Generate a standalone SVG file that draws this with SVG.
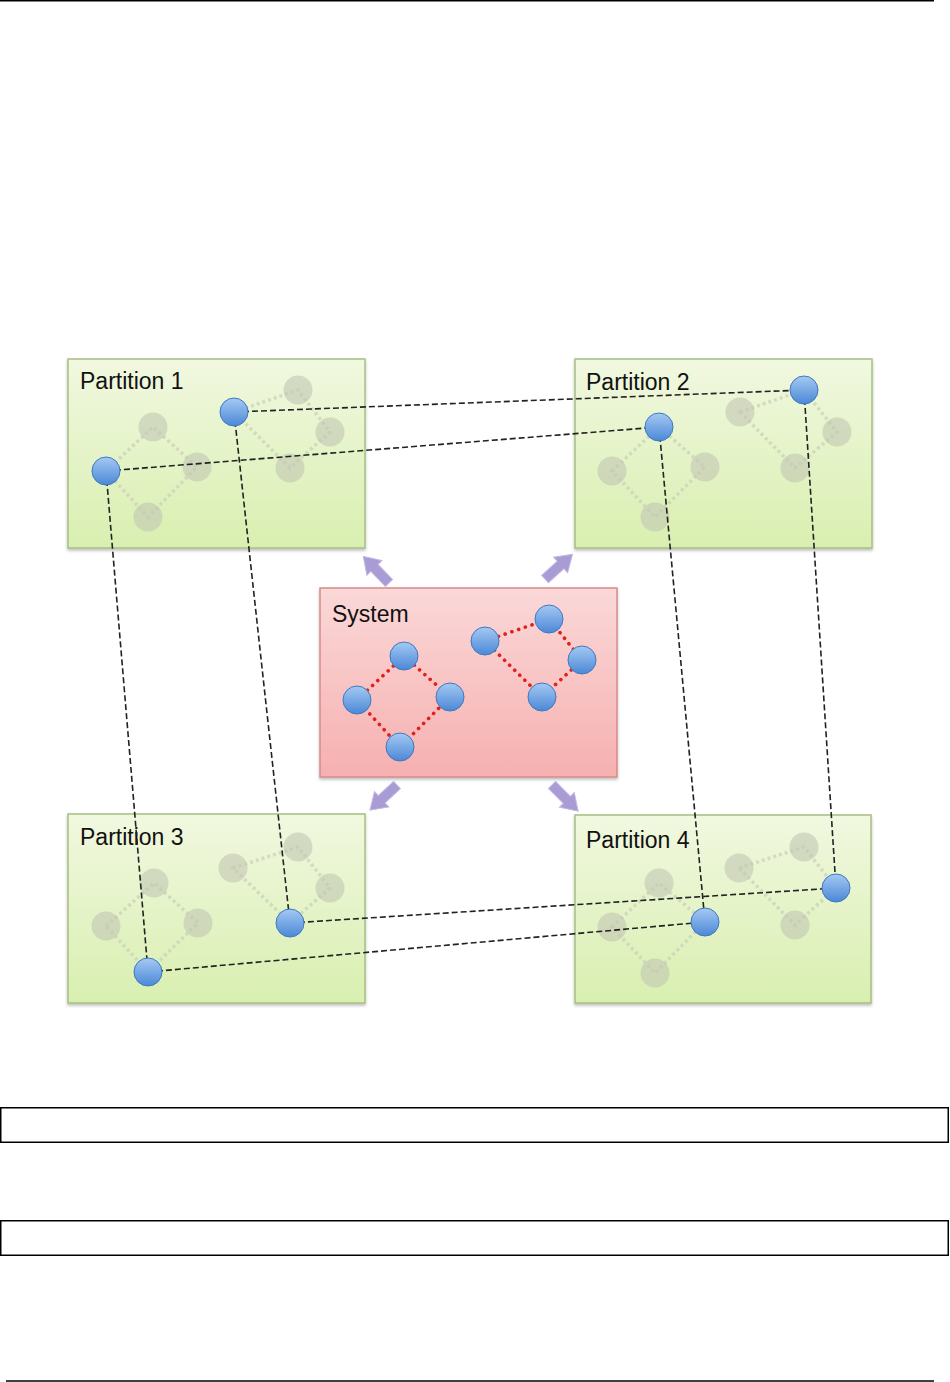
<svg xmlns="http://www.w3.org/2000/svg" width="950" height="1382" viewBox="0 0 950 1382">
<style>
.part{fill:url(#gGreen);stroke:#a6bf80;stroke-width:1.5;filter:url(#sh)}
.sys{fill:url(#gRed);stroke:#d88a8a;stroke-width:1.5;filter:url(#sh)}
.lbl{font-family:"Liberation Sans",Arial,sans-serif;font-size:23px;fill:#111}
.gn{fill:#c2c7b2;opacity:0.6}
.ge{stroke:#cbd1b9;stroke-width:3.5;stroke-dasharray:3 3;fill:none;opacity:0.75}
.bn{fill:url(#gBlue);stroke:#3f78c0;stroke-width:1}
.re{stroke:#e0201c;stroke-width:3.6;stroke-dasharray:0.1 7;stroke-linecap:round;fill:none}
.dl{stroke:#222;stroke-width:1.6;stroke-dasharray:6 3;fill:none}
.arr{fill:#a99bd3;stroke:#c4b9e6;stroke-width:1}
.frame{fill:none;stroke:#000;stroke-width:1.5}
</style>
<defs>
<linearGradient id="gGreen" x1="0" y1="0" x2="0" y2="1">
<stop offset="0" stop-color="#f1f8e0"/><stop offset="1" stop-color="#d9efb0"/>
</linearGradient>
<linearGradient id="gRed" x1="0" y1="0" x2="0" y2="1">
<stop offset="0" stop-color="#fbd8d8"/><stop offset="1" stop-color="#f6b0b0"/>
</linearGradient>
<linearGradient id="gBlue" x1="0" y1="0" x2="0" y2="1">
<stop offset="0" stop-color="#a5c9f3"/><stop offset="1" stop-color="#4b88d6"/>
</linearGradient>
<filter id="sh" x="-5%" y="-5%" width="110%" height="115%">
<feDropShadow dx="0" dy="2" stdDeviation="1.5" flood-color="#000" flood-opacity="0.25"/>
</filter>
<path id="ar" d="M0,-5 L21,-5 L21,-10.5 L37,0 L21,10.5 L21,5 L0,5 Z"/>
</defs>

<rect width="950" height="1382" fill="#fff"/>
<line x1="0" y1="0.75" x2="934" y2="0.75" stroke="#000" stroke-width="1.5"/>
<line x1="6" y1="1381" x2="934" y2="1381" stroke="#000" stroke-width="1.5"/>
<rect class="frame" x="0.75" y="1107.75" width="947.5" height="34.5"/>
<rect class="frame" x="0.75" y="1220.75" width="947.5" height="34.5"/>

<g id="partition1">
<rect class="part" x="68" y="359" width="297" height="189"/>
<text class="lbl" x="80" y="389">Partition 1</text>
<path class="ge" d="M106,471 L153,427 L197,467 L148,517 Z M234,412 L298,390 L330,432 L290,468 Z"/>
<circle class="gn" cx="153" cy="427" r="14.5"/>
<circle class="gn" cx="197" cy="467" r="14.5"/>
<circle class="gn" cx="148" cy="517" r="14.5"/>
<circle class="gn" cx="298" cy="390" r="14.5"/>
<circle class="gn" cx="330" cy="432" r="14.5"/>
<circle class="gn" cx="290" cy="468" r="14.5"/>
</g>

<g id="partition2">
<rect class="part" x="575" y="359" width="297" height="189"/>
<text class="lbl" x="586" y="390">Partition 2</text>
<path class="ge" d="M612,471 L659,427 L705,467 L655,517 Z M740,412 L804,390 L837,432 L795,468 Z"/>
<circle class="gn" cx="612" cy="471" r="14.5"/>
<circle class="gn" cx="705" cy="467" r="14.5"/>
<circle class="gn" cx="655" cy="517" r="14.5"/>
<circle class="gn" cx="740" cy="412" r="14.5"/>
<circle class="gn" cx="837" cy="432" r="14.5"/>
<circle class="gn" cx="795" cy="468" r="14.5"/>
</g>

<g id="partition3">
<rect class="part" x="68" y="814" width="297" height="189"/>
<text class="lbl" x="80" y="845">Partition 3</text>
<path class="ge" d="M106,926 L154,883 L198,923 L148,972 Z M233,868 L298,847 L330,888 L290,923 Z"/>
<circle class="gn" cx="106" cy="926" r="14.5"/>
<circle class="gn" cx="154" cy="883" r="14.5"/>
<circle class="gn" cx="198" cy="923" r="14.5"/>
<circle class="gn" cx="233" cy="868" r="14.5"/>
<circle class="gn" cx="298" cy="847" r="14.5"/>
<circle class="gn" cx="330" cy="888" r="14.5"/>
</g>

<g id="partition4">
<rect class="part" x="575" y="815" width="296" height="188"/>
<text class="lbl" x="586" y="848">Partition 4</text>
<path class="ge" d="M612,927 L659,883 L705,922 L655,973 Z M739,868 L804,847 L836,888 L795,925 Z"/>
<circle class="gn" cx="612" cy="927" r="14.5"/>
<circle class="gn" cx="659" cy="883" r="14.5"/>
<circle class="gn" cx="655" cy="973" r="14.5"/>
<circle class="gn" cx="739" cy="868" r="14.5"/>
<circle class="gn" cx="804" cy="847" r="14.5"/>
<circle class="gn" cx="795" cy="925" r="14.5"/>
</g>

<g id="system">
<rect class="sys" x="320" y="588" width="297" height="189"/>
<text class="lbl" x="332" y="622">System</text>
<path class="re" d="M357,700 L404,656 L450,697 L400,747 Z M485,641 L549,619 L582,660 L542,697 Z"/>
<circle class="bn" cx="404" cy="656" r="14"/>
<circle class="bn" cx="357" cy="700" r="14"/>
<circle class="bn" cx="450" cy="697" r="14"/>
<circle class="bn" cx="400" cy="747" r="14"/>
<circle class="bn" cx="485" cy="641" r="14"/>
<circle class="bn" cx="549" cy="619" r="14"/>
<circle class="bn" cx="582" cy="660" r="14"/>
<circle class="bn" cx="542" cy="697" r="14"/>
</g>

<g id="connectors">
<line class="dl" x1="234" y1="412" x2="804" y2="390"/>
<line class="dl" x1="106" y1="471" x2="659" y2="427"/>
<line class="dl" x1="234" y1="412" x2="290" y2="923"/>
<line class="dl" x1="106" y1="471" x2="148" y2="972"/>
<line class="dl" x1="659" y1="427" x2="705" y2="922"/>
<line class="dl" x1="804" y1="390" x2="836" y2="888"/>
<line class="dl" x1="290" y1="923" x2="836" y2="888"/>
<line class="dl" x1="148" y1="972" x2="705" y2="922"/>
<use href="#ar" class="arr" transform="translate(389,583) rotate(-134)"/>
<use href="#ar" class="arr" transform="translate(545,579) rotate(-42)"/>
<use href="#ar" class="arr" transform="translate(397,785) rotate(137)"/>
<use href="#ar" class="arr" transform="translate(552,785) rotate(45)"/>
</g>

<g id="boundary-nodes">
<circle class="bn" cx="234" cy="412" r="14"/>
<circle class="bn" cx="106" cy="471" r="14"/>
<circle class="bn" cx="659" cy="427" r="14"/>
<circle class="bn" cx="804" cy="390" r="14"/>
<circle class="bn" cx="148" cy="972" r="14"/>
<circle class="bn" cx="290" cy="923" r="14"/>
<circle class="bn" cx="705" cy="922" r="14"/>
<circle class="bn" cx="836" cy="888" r="14"/>
</g>
</svg>
